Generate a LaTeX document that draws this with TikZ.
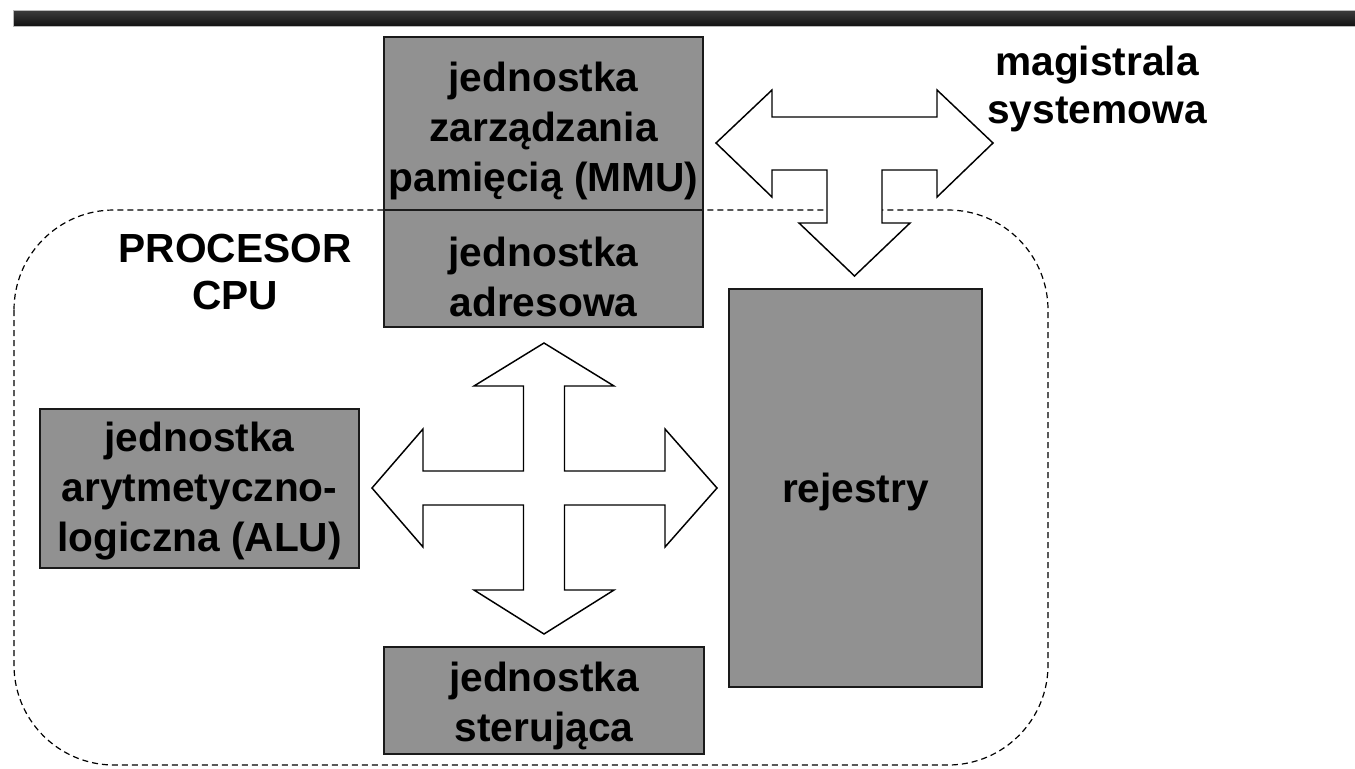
\documentclass[tikz,border=0pt]{standalone}
\usepackage{fontspec}
\setmainfont{Liberation Sans}
\usetikzlibrary{calc}

\definecolor{boxgray}{RGB}{145,145,145}
\definecolor{boxedge}{RGB}{26,26,26}

\tikzset{
  unitbox/.style={draw=boxedge, line width=1.3pt, fill=boxgray, inner sep=0pt},
  unittext/.style={align=center, inner sep=0pt,
    font=\bfseries\fontsize{30.5}{37.5}\selectfont},
  label text/.style={align=center, inner sep=0pt,
    font=\bfseries\fontsize{30.5}{35.5}\selectfont},
  blockarrow/.style={draw=black, fill=white, line width=1.1pt, line join=miter},
  cpuframe/.style={draw=black, line width=0.9pt, dash pattern=on 4.5pt off 3pt,
    rounded corners=75pt},
}

\begin{document}
\begin{tikzpicture}[x=0.75pt, y=-0.75pt]
  \useasboundingbox (0,0) rectangle (1355,768);

  % header bar
  \shade[top color=black!76, bottom color=black!93]
    (13,10) rectangle (1355,26);
  \draw[gray!55, line width=0.6pt] (13,26) -- (13,10) -- (1355,10);
  \draw[gray!55, line width=0.6pt] (13,26) -- (1355,26);

  % processor boundary
  \draw[cpuframe] (14,210) rectangle (1048,765);

  % functional units
  \node[unitbox, minimum width=319*0.75pt, minimum height=173*0.75pt]
    (mmu) at (543.5,123.5) {};
  \node[unitbox, minimum width=319*0.75pt, minimum height=117*0.75pt]
    (addr) at (543.5,268.5) {};
  \node[unitbox, minimum width=319*0.75pt, minimum height=159*0.75pt]
    (alu) at (199.5,488.5) {};
  \node[unitbox, minimum width=253*0.75pt, minimum height=398*0.75pt]
    (regs) at (855.5,488) {};
  \node[unitbox, minimum width=320*0.75pt, minimum height=107*0.75pt]
    (ctrl) at (544,700.5) {};

  \node[unittext] (mmu-t) at ($(mmu.center)+(0,7)$)
    {jednostka\\zarządzania\\pamięcią (MMU)};
  \node[unittext] (addr-t) at ($(addr.center)+(0,8)$) {jednostka\\adresowa};
  \node[unittext] (alu-t) at ($(alu.center)+(0,3)$)
    {jednostka\\arytmetyczno-\\logiczna (ALU)};
  \node[unittext] (regs-t) at ($(regs.center)+(0,4)$) {rejestry};
  \node[unittext] (ctrl-t) at ($(ctrl.center)+(0,5)$) {jednostka\\sterująca};

  % labels
  \node[label text] (cpu) at (235,272) {PROCESOR\\CPU};
  \node[label text] (bus) at (1097,89) {magistrala\\systemowa};

  % system bus arrow (left, right and down to the registers)
  \draw[blockarrow]
    (716,143) -- (772,90) -- (772,117) -- (937,117) -- (937,90) -- (993,143)
    -- (937,197) -- (937,170) -- (882,170) -- (882,223) -- (910,223)
    -- (854.5,276) -- (799,223) -- (827,223) -- (827,170) -- (772,170)
    -- (772,197) -- cycle;

  % internal four-way arrow
  \draw[blockarrow]
    (544,343) -- (614,386) -- (564.5,386) -- (564.5,471) -- (665,471)
    -- (665,429) -- (717,488) -- (665,547) -- (665,505) -- (564.5,505)
    -- (564.5,590) -- (614,590) -- (544,634) -- (474,590) -- (523.5,590)
    -- (523.5,505) -- (423,505) -- (423,547) -- (372,488) -- (423,429)
    -- (423,471) -- (523.5,471) -- (523.5,386) -- (474,386) -- cycle;
\end{tikzpicture}
\end{document}
